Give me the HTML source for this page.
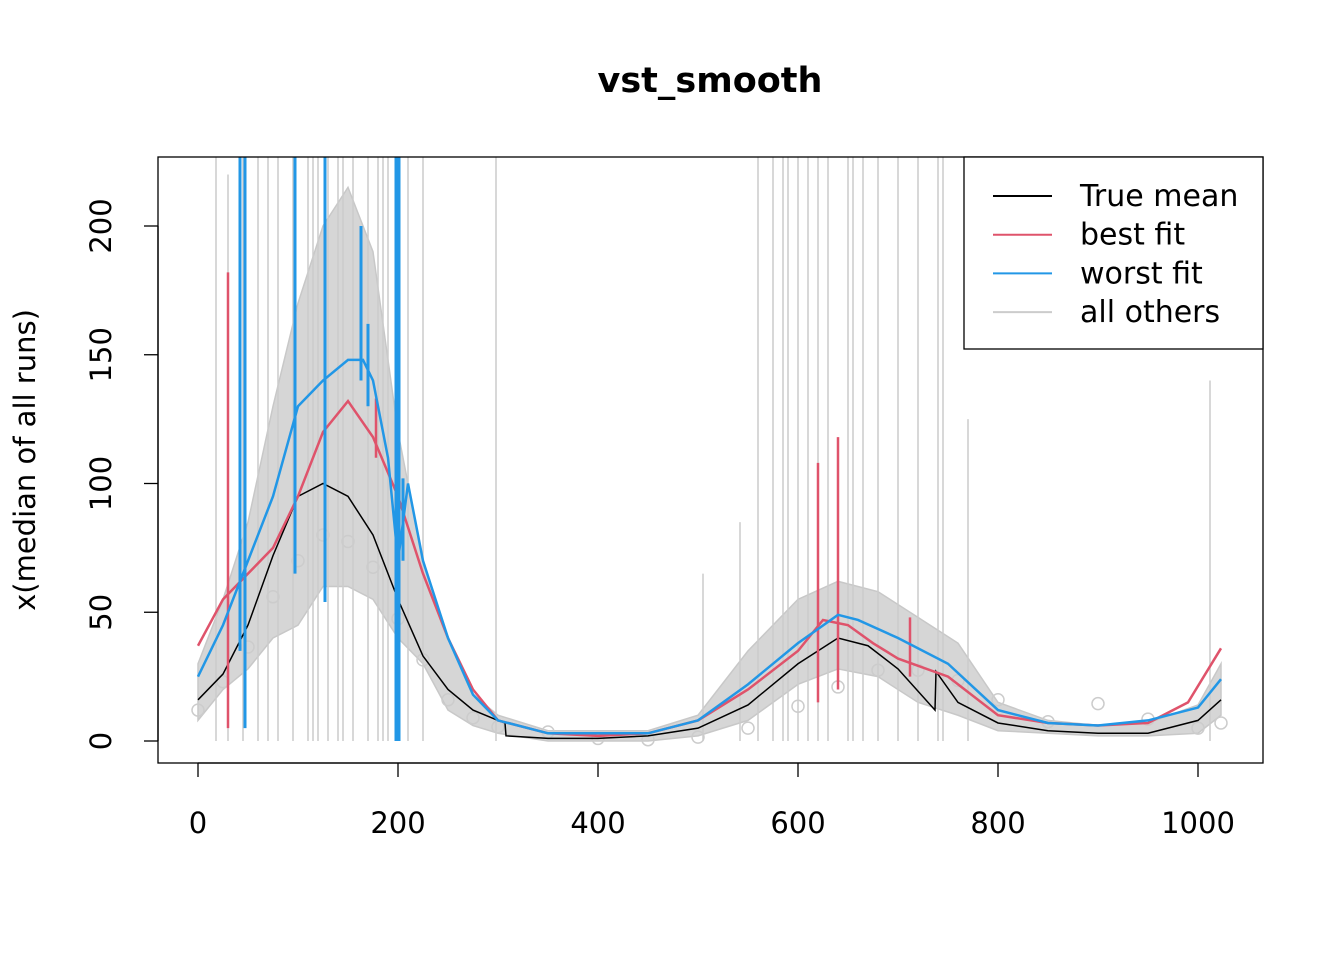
<!DOCTYPE html>
<html><head><meta charset="utf-8"><style>
body{margin:0;background:#fff}
svg text{font-family:"DejaVu Sans","Liberation Sans",sans-serif}
</style></head><body>
<svg id="c" width="1344" height="960"></svg>
<script>
const trueX=[0,25,50,75,100,125,150,175,200,225,250,275,300,307,308,350,400,450,500,550,600,640,670,700,737,738,760,800,850,900,950,1000,1023];
const trueY=[16,26,45,72,95,100,95,80,55,33,20,12,8,7,2,1,1,2,5,14,30,40,37,28,12,27,15,7,4,3,3,8,16];
const bestX=[0,25,50,75,100,125,150,175,200,225,250,275,300,350,400,450,500,550,600,625,650,675,700,750,800,850,900,950,990,1023];
const bestY=[37,55,65,75,95,120,132,118,95,65,40,20,8,3,2,3,8,20,35,47,45,38,32,25,10,7,6,7,15,36];
const worstX=[0,25,50,75,100,125,150,165,175,190,200,210,225,250,275,300,350,400,450,500,550,600,640,660,700,750,800,850,900,950,1000,1023];
const worstY=[25,45,70,95,130,140,148,148,140,110,70,100,70,40,18,8,3,3,3,8,22,38,49,47,40,30,12,7,6,8,13,24];
const bestSpikeX=[30,620,640,178,712];
const bestSpikeLo=[5,15,20,110,25];
const bestSpikeHi=[182,108,118,133,48];
const worstSpikeX=[42,47,97,127,163,170,198,201,205];
const worstSpikeLo=[35,5,65,54,140,130,0,0,70];
const worstSpikeHi=[230,230,230,230,200,162,230,230,102];
const grayUpX=[0,25,50,75,100,125,150,175,200,225,250,275,300,350,400,450,500,550,600,640,680,720,760,800,850,900,950,1000,1023];
const grayUpY=[30,55,85,130,170,200,215,190,120,70,40,18,10,4,4,4,10,35,55,62,58,48,38,15,8,6,7,14,30];
const grayLoX=[0,25,50,75,100,125,150,175,200,225,250,275,300,350,400,450,500,550,600,640,680,720,760,800,850,900,950,1000,1023];
const grayLoY=[8,20,28,40,45,60,60,55,40,30,12,6,3,0,0,0,2,8,22,28,25,15,10,4,3,2,2,3,10];
const graySpikeX=[18,30,45,60,70,80,95,110,115,120,130,140,145,155,170,180,185,190,210,225,298,505,542,560,575,585,590,600,610,620,630,650,655,665,680,700,720,740,745,770,1012];
const graySpikeHi=[230,220,230,230,230,230,230,230,230,230,230,230,230,230,230,230,230,230,230,230,230,65,85,230,230,230,230,230,230,230,230,230,230,230,230,230,230,230,230,125,140];
const xTicks=[0,200,400,600,800,1000];
const yTicks=[0,50,100,150,200];
const svg=document.getElementById('c');const NS='http://www.w3.org/2000/svg';
const X=v=>198+v*1.0, Y=v=>741-v*2.575;
function el(t,a,name){const e=document.createElementNS(NS,t);for(const k in a)e.setAttribute(k,a[k]);


svg.appendChild(e);return e;}
const clip=el('clipPath',{id:'cp'},'plot-clip');const r=document.createElementNS(NS,'rect');
r.setAttribute('x',158);r.setAttribute('y',157);r.setAttribute('width',1105);r.setAttribute('height',606);clip.appendChild(r);
const g=el('g',{'clip-path':'url(#cp)'},'plot-area');
function add(t,a,name){const e=el(t,a,name);g.appendChild(e);return e;}
let band=grayUpX.map((x,i)=>X(x)+','+Y(grayUpY[i])).join(' ')+' '+grayLoX.slice().reverse().map((x,i)=>X(x)+','+Y(grayLoY[grayLoY.length-1-i])).join(' ');
add('polygon',{points:band,fill:'#d6d6d6',stroke:'#c8c8c8','stroke-width':1.5},'others-band');
graySpikeX.forEach((x,i)=>add('line',{x1:X(x),x2:X(x),y1:Y(0),y2:Y(graySpikeHi[i]),stroke:'#cccccc','stroke-width':1.5},'others-spike'));
grayLoX.forEach((x,i)=>add('circle',{cx:X(x),cy:Y((grayLoY[i]+trueY[Math.min(i,trueY.length-1)])/2),r:6,fill:'none',stroke:'#cccccc','stroke-width':1.5},'others-point'));
const pl=(xs,ys,c,w,n)=>add('polyline',{points:xs.map((x,i)=>X(x)+','+Y(ys[i])).join(' '),fill:'none',stroke:c,'stroke-width':w},n);
pl(trueX,trueY,'#000',1.5,'true-mean-line');
pl(bestX,bestY,'#df536b',2.5,'best-fit-line');
bestSpikeX.forEach((x,i)=>add('line',{x1:X(x),x2:X(x),y1:Y(bestSpikeLo[i]),y2:Y(bestSpikeHi[i]),stroke:'#df536b','stroke-width':2.5},'best-fit-spike'));
pl(worstX,worstY,'#2297e6',2.5,'worst-fit-line');
worstSpikeX.forEach((x,i)=>add('line',{x1:X(x),x2:X(x),y1:Y(worstSpikeLo[i]),y2:Y(worstSpikeHi[i]),stroke:'#2297e6','stroke-width':3},'worst-fit-spike'));
el('rect',{x:158,y:157,width:1105,height:606,fill:'none',stroke:'#000','stroke-width':1.3},'plot-frame');
el('line',{x1:X(0),x2:X(1000),y1:763,y2:763,stroke:'#000','stroke-width':1.3},'x-axis');
xTicks.forEach(t=>{el('line',{x1:X(t),x2:X(t),y1:763,y2:777,stroke:'#000','stroke-width':1.3},'x-tick');
const tx=el('text',{x:X(t),y:833,'text-anchor':'middle','font-size':29},'x-tick-label');tx.textContent=t;});
el('line',{x1:158,x2:158,y1:Y(0),y2:Y(200),stroke:'#000','stroke-width':1.3},'y-axis');
yTicks.forEach(t=>{el('line',{x1:144,x2:158,y1:Y(t),y2:Y(t),stroke:'#000','stroke-width':1.3},'y-tick');
const tx=el('text',{x:0,y:0,'text-anchor':'middle','font-size':29,transform:`translate(111,${Y(t)}) rotate(-90)`},'y-tick-label');tx.textContent=t;});
const yt=el('text',{x:0,y:0,'text-anchor':'middle','font-size':29,transform:'translate(35,460) rotate(-90)'},'y-axis-title');yt.textContent='x(median of all runs)';
const tt=el('text',{x:710,y:92,'text-anchor':'middle','font-size':35,'font-weight':'bold'},'chart-title');tt.textContent='vst_smooth';
el('rect',{x:964,y:157,width:299,height:192,fill:'#fff',stroke:'#000','stroke-width':1.3},'legend-box');
const lg=[['True mean','#000'],['best fit','#df536b'],['worst fit','#2297e6'],['all others','#cccccc']];
lg.forEach((d,i)=>{const y=196+i*38.7;
el('line',{x1:993,x2:1052,y1:y,y2:y,stroke:d[1],'stroke-width':2},'legend-line');
const t=el('text',{x:1080,y:y+10,'font-size':30},'legend-entry');t.textContent=d[0];});
</script>
</body></html>
